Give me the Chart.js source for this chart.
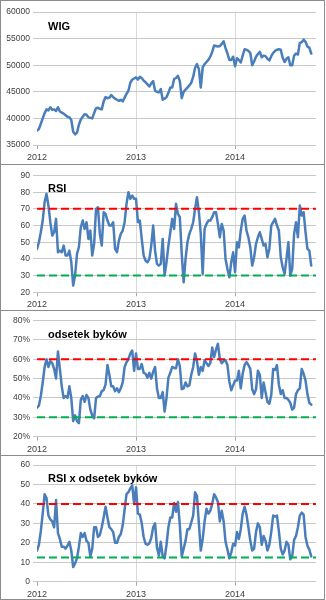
<!DOCTYPE html>
<html>
<head>
<meta charset="utf-8">
<script src="https://cdn.jsdelivr.net/npm/chart.js@4.4.1/dist/chart.umd.min.js"></script>
<style>
  html, body { margin: 0; padding: 0; background: #ffffff; }
  body { width: 326px; height: 600px; position: relative; overflow: hidden; font-family: "Liberation Sans", Arial, sans-serif; }
  .panel { position: absolute; left: 0; width: 323px; border: 1px solid #8c8c8c; background: #fff; }
  .panel canvas { position: absolute; left: 0; top: 0; }
  .ttl { position: absolute; left: 47px; font: bold 11px "Liberation Sans", Arial, sans-serif; color: #000; white-space: nowrap; line-height: 12px; }
</style>
</head>
<body>
<div class="panel" id="p1" style="top:0px;height:163px;"><canvas id="c1"></canvas><div class="ttl" style="top:19px;">WIG</div></div>
<div class="panel" id="p2" style="top:164px;height:145px;"><canvas id="c2"></canvas><div class="ttl" style="top:17px;">RSI</div></div>
<div class="panel" id="p3" style="top:310px;height:144px;"><canvas id="c3"></canvas><div class="ttl" style="top:17px;">odsetek byków</div></div>
<div class="panel" id="p4" style="top:455px;height:143px;"><canvas id="c4"></canvas><div class="ttl" style="top:16px;">RSI x odsetek byków</div></div>
<script>
// ---- data (weekly, week 0 = start of 2012) ----
const tickWeeks = [0, 52, 104];
const tickLabels = ["2012", "2013", "2014"];
const titles = ["WIG", "RSI", "odsetek byków", "RSI x odsetek byków"];

const wig = [37700,38000,39000,40000,41000,41700,41500,42100,41600,41700,
  41400,42100,41300,41100,40900,40600,40300,40200,39700,37500,
  37000,37300,38800,39800,40300,40800,40700,40200,40100,40000,
  41000,41900,42000,41800,41700,43200,44000,43800,43900,44400,
  44000,43700,43500,43300,43500,43200,43900,44600,45200,46700,
  47300,47500,47700,47300,47800,47600,47100,46800,46400,46000,
  46600,47000,45200,45000,44900,45500,43500,43700,44000,44800,
  45800,45800,47400,47600,48000,47000,43800,45000,45400,45800,
  46200,46700,47800,49500,50200,49300,45800,49600,50200,50600,
  51000,51600,52500,53700,53600,53500,53600,54000,54500,53200,
  52200,51000,51000,51600,49800,51300,51000,50500,51800,53000,
  52900,52700,52300,50000,50700,51600,52100,52500,51500,51800,
  51700,51200,50900,51700,52300,52700,52900,53000,52900,51400,
  50600,51200,51500,50000,50000,51800,52200,52000,54200,54300,
  54800,54400,53500,53300,52200];

const rsi = [46,50,56,63,74,79,72,62,54,56,
  64,44,45,44,48,42,42,45,38,24,
  30,43,47,59,63,58,62,52,57,42,
  49,70,71,55,48,68,67,63,60,60,
  62,46,44,51,55,57,62,73,80,76,
  78,76,76,62,63,52,42,39,38,40,
  48,60,45,37,36,37,52,30,38,48,
  56,64,58,73,67,65,43,26,40,50,
  55,58,62,70,77,68,55,31,58,61,
  63,63,65,68,68,61,53,61,57,40,
  34,29,38,44,32,50,47,57,64,66,
  57,53,47,36,41,49,53,56,52,48,
  49,41,46,60,62,64,60,57,41,35,
  31,40,50,30,34,55,62,53,72,66,
  68,56,46,45,36];

const bulls = [35,36,41,48,56,60,56,59,58,55,
  50,64,55,46,40,41,40,46,40,28,
  31,28,27,39,41,38,41.5,40,34,31,
  29.5,40,40.7,41,43.5,44,47,57,52,46,
  46,43.5,45,43,45,48,56,58.4,60,63,
  64.5,54,63,55,55,57.5,53,52.5,50.5,53,
  50,53.5,56,45,40,40,43,33,40,50.5,
  53,56,55.5,55.3,60,56.5,44.5,45,48,46,
  46.5,52,56,63,59,52,56,54,59.5,58,
  56.5,58,66,61,65,68,60,58,59,59.5,
  57,48.5,44,46.5,49,49,54,45,52.5,57,
  58.5,57,55,44.5,42,44.5,54,52,40,48,
  43,38,37,41.5,55,54.5,57,47,42,44,
  40,40,39,37.5,34,35,42,44,45,55,
  52.5,49,42,37.5,36.5];

const rsiBulls = [16,19,26,35,45,43,34,32,31,28,
  42,25,22,18,18,17,18.5,20.5,16,7.5,
  9.5,12,18,25,23,25,21,20,13,17,
  28,28,23,24,28,33,38.5,33,28,27,
  25.5,20,20,23,24.5,29,37,45,46,48,
  49.5,40,48.5,35,34.5,30,23,19.5,19,19.7,
  22.5,28,30,17.5,13.5,20.5,13,12,19,28,
  33,33,40.5,36,41,29,13,17,21,27,
  27,30.5,34,46,44,30,16,22,31,37.5,
  35,36.5,40,45,43.3,41,31,36.5,31,20.5,
  16.5,12,15,19.5,18.5,25.5,22,27,35,38.5,
  34.5,28,21,16,17,25.5,30,28,19,23.5,
  21,16,19,25.5,34,33.5,34,26,17,14,
  16,20.5,19,11.5,13,21.5,23.5,28,34,35.5,
  34.5,23,18.5,16.5,13];

// threshold levels: [upper (red), lower (green)]
const wigLevels = [];
const rsiLevels = [70, 30];
const bullsLevels = [60, 30];
const rsiBullsLevels = [40, 12.5];

const xMax = 146.5;

function pts(arr) { return arr.map((v, i) => ({ x: i, y: v })); }
function levelLine(v) { return [{ x: 0, y: v }, { x: xMax, y: v }]; }

function makeChart(id, series, levels, yMin, yMax, yStep, fmt, geom) {
  const canvas = document.getElementById(id);
  const W = 323, H = geom.h;
  canvas.width = W; canvas.height = H;
  canvas.style.width = W + 'px'; canvas.style.height = H + 'px';
  const datasets = [];
  if (levels.length) {
    datasets.push({ data: levelLine(levels[0]), borderColor: '#ff0000', borderWidth: 2, borderDash: [8, 4], pointRadius: 0, fill: false, order: 1 });
    datasets.push({ data: levelLine(levels[1]), borderColor: '#00b050', borderWidth: 2, borderDash: [8, 4], pointRadius: 0, fill: false, order: 1 });
  }
  datasets.unshift({ data: pts(series), borderColor: '#4a7ebb', borderWidth: 2.5, pointRadius: 0, tension: 0, fill: false, order: 2, borderJoinStyle: 'round', borderCapStyle: 'round' });
  return new Chart(canvas, {
    type: 'line',
    data: { datasets },
    options: {
      responsive: false,
      animation: false,
      events: [],
      layout: { padding: { top: geom.top, right: 8, bottom: 0, left: 0 } },
      plugins: { legend: { display: false }, tooltip: { enabled: false }, title: { display: false } },
      scales: {
        x: {
          type: 'linear', min: 0, max: xMax,
          afterBuildTicks: (s) => { s.ticks = tickWeeks.map(v => ({ value: v })); },
          afterFit: (s) => { s.height = geom.xh; },
          border: { display: false },
          grid: {
            color: (c) => (c.tick && c.tick.value === 0) ? 'rgba(0,0,0,0)' : '#d9d9d9',
            tickColor: '#a6a6a6', tickLength: 4, lineWidth: 1
          },
          ticks: {
            autoSkip: false, maxRotation: 0, padding: 3,
            color: '#404040', font: { family: '"Liberation Sans", Arial, sans-serif', size: 9 },
            callback: (v) => { const k = tickWeeks.indexOf(v); return k >= 0 ? tickLabels[k] : ''; }
          }
        },
        y: {
          min: yMin, max: yMax,
          afterFit: (s) => { s.width = 36; },
          border: { display: false },
          grid: { color: '#c8c8c8', tickColor: '#c8c8c8', tickLength: 4, lineWidth: 1 },
          ticks: {
            stepSize: yStep, padding: 3, color: '#404040',
            font: { family: '"Liberation Sans", Arial, sans-serif', size: 8.5 },
            callback: fmt
          }
        }
      }
    }
  });
}

makeChart('c1', wig, wigLevels, 35000, 60000, 5000, (v) => String(v), { h: 163, top: 11, xh: 19 });
makeChart('c2', rsi, rsiLevels, 20, 90, 10, (v) => String(v), { h: 145, top: 10.5, xh: 17.7 });
makeChart('c3', bulls, bullsLevels, 20, 80, 10, (v) => v + '%', { h: 144, top: 9.5, xh: 18.3 });
makeChart('c4', rsiBulls, rsiBullsLevels, 0, 60, 10, (v) => String(v), { h: 143, top: 9, xh: 17.3 });
</script>
</body>
</html>
